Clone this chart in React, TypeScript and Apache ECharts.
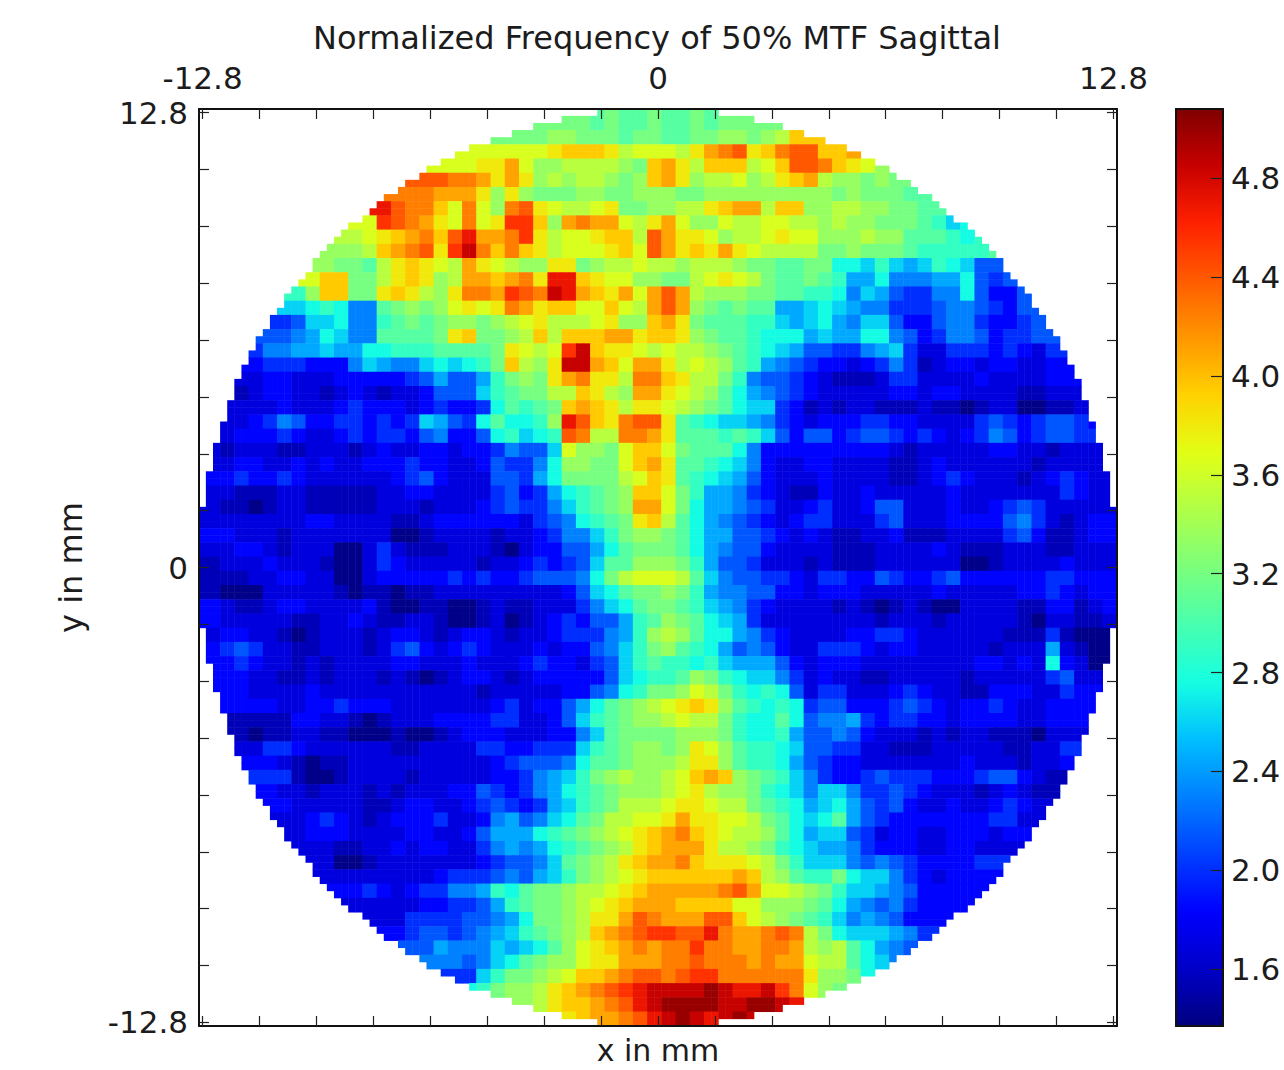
import React, { useEffect, useRef } from "react";
import * as echarts from "echarts";

// Each letter is one 0.4 mm block of the map:
// a = 1.40, b = 1.55, ... each next letter is 0.15 higher, up to y = 5.00. "." is outside the wafer.
const sagittalRows: string[] = [
  "........ ........ ........ .mmlmllm llmlmmm. ........ ........ ........",
  "........ ........ ......mm nnmmmlmm llmmnnmn orr..... ........ ........",
  "........ ........ ...ppppp qrrrqopp poqstuqr tuurrsp. ........ ........",
  "........ ........ .ppqqspn noooonmr sqorrrop ruutrqpn n....... ........",
  "........ .......u uttsqsqn onoonmnr sqnoopno qrsonnmn mm...... ........",
  "........ ......tt sssqnqnm mmnnmmnn nmmnnnnn nnnnmnmm mlll.... ........",
  "........ ....wutt rptpntuq poopqmmn nooqrsso rrnnoonn mmlll... ........",
  "........ ...pvuts qptpqvvr nstsspoq spnnpoop poononnm mmlkij.. ........",
  "........ ..opqrst ruwsstvq oppqrrou sqqpnoop qppnnnon nlllkjkm ........",
  "........ .nnorstu qvxtrtrq opppqrpu sqrqsqpo ooommnmm mlkkkkkl m.......",
  "........ nmmloqrq posqponn qqmnoopo onooonmm llmmjjik ihikjiff gjk.....",
  ".......p rrmmoqrq nossrstq wwrqppnn mmopqpom llmlkhhj ggghhjfe fhi.....",
  "......kn rrmmqrqo nqttsvut xwsrqsps usonnnmm llkkjgih feeggjfd dfgg....",
  ".....iij kjgglmnm npqpqtsq rrpprpos usnmlmll hhijihgg eeefggfe dffff...",
  "....eefi ijggklml mnnmnopq ooopqnnr sqmlllkk ihijhgii fddfgged deffg...",
  "...fffgh jiggllll mqrmmnor orrrssqr rqnmllkj jjhihhjj gfdeggfd eeffee..",
  "...egghh ihhjjkkk llllmqpo pvxrqqpo poonmlkj ihffeegh iecceeed edceee..",
  "..ddeeed ddgihggi jijkmron qxxsrpss qoponlkh gfeddcde gebcddcd dccddee.",
  "..ccddcc cdddddef hffhkmnm qstqqott rqoomkgf fedcbbbc eeccccdc cccdddc.",
  ".cbcddcc bcdcbccd fffiklmm oorqonss qponljhg fedccccc ddcddccc cbbcccc.",
  ".ccccdcc cdedddcd eddejlkl mrsrqoqq ponmljii edbcbccb bbcbbabc caabbcc.",
  ".ccdegfd deededei hfejljjk nwurqtuu qlkjiihg edcdddee ddccccef edeffedd",
  "ccdddedc cdedeedf gddfjkij kutootts qlllklki fdffdeff ededcdeg fdeffeed",
  "cbcccbbc ccbcdccd dcddegff ipnnmprr pmllljgd dddddddd cbcccccd dccbcccc",
  "ccddccdc dccddded dccdfeeg jnnmmprs qllkjigd ccddcccc bbcdcccc ccbccccc",
  "ddeddedc cccccdef dcccffeh jmmmmopr qlkjihfd cccdcccc bbcdedcc cbcdedcc",
  "ccbbbccb bbbbccdd ccccefde hjklmnrr pmkhhged cbbdccdc ccccdccc ccccedcc",
  "cbbabccb bbbbcccb cccdefee giklmnss pmjhhgfe ccdeccdf fcccdccd efeccccc",
  "cccccccd dccccbbc ddddddce fgjklmqr oljhgfed cdeeccce fcccdddd fgecbcdd",
  "ddcccbcc cccccaab ccccbccd eggikmnn mljhhffe dcdcbbcc dbbbcccc efdbbcdd",
  "ccddcbcc caacecbb bcccbacd dffhjlmm mljhgffd ccccbbbc cccdcbbb cccbbccc",
  "bcccdccc baacedcc cccbccde defillnn nmkhffec ccbcbbbc cccccaab ccccdccc",
  "bbbccddc caacdddd dededdef ffgjmopp poligffe edceeddf eddefddd dddeeddd",
  "baaacccc cbabbabb cccccccc cdfijlmm nmkhggff ddcdddcc cccdcccc cddedcdd",
  "dcbbcddc cccdbaab baabcbbc ccegijlm mlkihged ccccbcba bcbaaccc cbbddbcd",
  "dcccccbb ccdcbbcc baabcabc dedffhkl nmljihec cccccccb cccbcccc cbaccbbc",
  "cddccbab cccbcddc bcddcbcc deeeghkn onljjhge dccccdde edcccccc bbbebaaa",
  "defeccbb cccbcefd cdedcccd cddfgikm nlkjhfgf dcceeedc ddcccccb ccchcbaa",
  "ddedccbc bccccddc ccdcccde ddcefikl kkjkihhh fdcdddcc ccccccdd cdcjdcaa",
  "dddccbbc bcccbcba bcddcbcd ddddfijk klnmkjii gecdccbb cccccbcc cccefcc.",
  ".ddccccd cccccccc cccbcccc cddfgjkm mnpomkjk jfceeccc dedccbbd ddccedd.",
  ".ddddccd dedddccc ccccdecd dfhjlmno pqrqnlkj kjeffddd efedcdde dccddd..",
  ".bbbbbdd ccbabccc ddddeecc dfiklmnn opoomkjj ljfgghed eeddcddd dccdd...",
  "..babbcc bbaaabaa bcdddccc ddgilmmm mnnnmkjj khffgfdc ccbcbccb bbacc...",
  "..cceedc cccccbbc ccceedde eeiklmnn mnqpnlkk jiffeecc bbbccccc bbccee..",
  "...ddcba bbcccccc ccccdeff fgjllmnn noqqnlkk jhfeddcc cccccdcc cbccd...",
  "...eeeba abccccbc ccccddeg hikmnonn oprsrnml kigeddef eeedddef fdcbb...",
  "....dccb cccbcbcc cddfedeg hjklmnnn opqonnmk jigiigee fedcccbc dcbb....",
  "....ddcc cccbbcdd ccdefede hiklmooo pqqpooml kjhijhfe fdccdccd edc.....",
  ".....ccd edcbcddd eccdghfg ijlmoopp qsqqppom ljijlhfe ddddddde ec......",
  "......cd ddccccdd ccdfhhhj klmnopqr strqpoon ljhiifec ddccdddc d.......",
  "......cc cbbccdcd dcceghgh jklmnoqr sssqoonm kjihhged ddccddcc ........",
  ".......c caabcccc cccdeffg ilmnoqrs strqqqpo mkiiigfg fedddde. ........",
  "........ cccccccc deeefgfh ikmnopqr rrrrrsro nlkkmjii gedcddd. ........",
  "........ ..dedcde egghkjlm mnoopqrs sssstusp ponmkiih gfdddd.. ........",
  "........ ..cccccd deefhklm mnopqrss srrrrppn nnmljhgf gedddd.. ........",
  "........ ...cccee eeffghjm mnoqqsut sssuurpo nmlkighg fddd.... ........",
  "........ ....ddef fefghikl mnorstuv vuuwtsst utomjiii hge..... ........",
  "........ ......ff hgggihij lnpqrsts ttvttsst tsonoljh gf...... ........",
  "........ .......g ggfgijlm nnpqqsss ttutttst sspoolji g....... ........",
  "........ ........ .eeikmmn oprrstuu tuvvtttt ttqnnmjh ........ ........",
  "........ ........ ..jkmnno qrstuvwx xxxyxwwx vtpnmm.. ........ ........",
  "........ ........ ....nnno qrrstuwx yyyyxxyy xwvo.... ........ ........",
  "........ ........ ........ qqrsstuw xyxwxyxv ........ ........ ........",
];

const jetColors = [
  "#00007f", "#0000c8", "#0000ff", "#0040ff", "#0080ff", "#00bfff", "#15ffe2", "#48ffaf", "#7bff7b",
  "#afff48", "#e2ff15", "#ffd200", "#ff9700", "#ff5c00", "#ff2100", "#c80000", "#7f0000",
];
const colorbarTicks = [1.6, 2.0, 2.4, 2.8, 3.2, 3.6, 4.0, 4.4, 4.8];
const colorMin = 1.37;
const colorMax = 5.08;
const cellsPerSide = 129;
const axisLabels: Record<number, string> = { 0: "-12.8", 64: "0", 128: "12.8" };
const titleText = "Normalized Frequency of 50% MTF Sagittal";
const xName = "x in mm";
const yName = "y in mm";

const FONT = "'DejaVu Sans', sans-serif";
const INK = "#1c1c1c";

function blockValue(row: number, col: number): number {
  const text = sagittalRows[row].replace(/ /g, "");
  let ch = text[col];
  for (let d = 1; (!ch || ch === ".") && d < 64; d++) {
    const a = text[col - d];
    const b = text[col + d];
    if (a && a !== ".") ch = a;
    else if (b && b !== ".") ch = b;
  }
  return 1.4 + 0.15 * (ch.charCodeAt(0) - 97);
}

function buildCells(): [number, number, number][] {
  const out: [number, number, number][] = [];
  const rowCount = sagittalRows.length;
  for (let j = 0; j < cellsPerSide; j++) {
    for (let i = 0; i < cellsPerSide; i++) {
      const dx = i - 64;
      const dy = j - 64;
      if (dx * dx + dy * dy > 64.5 * 64.5) continue;
      const r = Math.min(rowCount - 1, Math.floor((j * rowCount) / cellsPerSide));
      const c = Math.min(63, Math.floor((i * 64) / cellsPerSide));
      out.push([i, cellsPerSide - 1 - j, blockValue(r, c)]);
    }
  }
  return out;
}

export default function App() {
  const ref = useRef<HTMLDivElement>(null);
  useEffect(() => {
    document.body.style.margin = "0";
    const chart = echarts.init(ref.current!, undefined, { renderer: "svg" });
    const categories = Array.from({ length: cellsPerSide }, (_, i) => String(i));
    const tickEvery = (i: number) => i % 8 === 0;
    const labelEvery = (i: number) => i % 64 === 0;
    const line = { show: true, onZero: false, lineStyle: { color: "#111", width: 2 } };
    const tick = {
      show: true,
      inside: true,
      length: 10,
      alignWithLabel: true,
      interval: tickEvery,
      lineStyle: { color: "#222", width: 1.2 },
    };
    const label = (show: boolean, margin: number) => ({
      show,
      interval: labelEvery,
      margin,
      color: INK,
      fontFamily: FONT,
      fontSize: 31,
      formatter: (v: string) => axisLabels[Number(v)] ?? "",
    });
    chart.setOption({
      animation: false,
      backgroundColor: "#fff",
      title: {
        text: titleText,
        left: 652,
        top: 17,
        textAlign: "center",
        textStyle: { color: INK, fontFamily: FONT, fontSize: 32, fontWeight: "normal" },
      },
      grid: [
        { left: 199, top: 109, width: 918, height: 917, containLabel: false, outerBoundsMode: "none" },
        { left: 1176, top: 109, width: 47, height: 917, containLabel: false, outerBoundsMode: "none" },
      ],
      xAxis: [
        { type: "category", data: categories, position: "top", gridIndex: 0, z: 5, axisLine: line, axisTick: tick, axisLabel: label(true, 16), splitLine: { show: false } },
        {
          type: "category", data: categories, position: "bottom", gridIndex: 0, z: 5, axisLine: line, axisTick: tick, axisLabel: { show: false }, splitLine: { show: false },
          name: xName, nameLocation: "middle", nameGap: 9,
          nameTextStyle: { color: INK, fontFamily: FONT, fontSize: 30, verticalAlign: "top" },
        },
        { type: "category", data: ["", ""], gridIndex: 1, position: "top", z: 10, axisLine: line, axisTick: { show: false }, axisLabel: { show: false } },
        { type: "category", data: ["", ""], gridIndex: 1, position: "bottom", z: 10, axisLine: line, axisTick: { show: false }, axisLabel: { show: false } },
      ],
      yAxis: [
        {
          type: "category", data: categories, position: "left", gridIndex: 0, z: 5, axisLine: line, axisTick: tick, axisLabel: label(true, 11), splitLine: { show: false },
          name: yName, nameLocation: "middle", nameGap: 112, nameRotate: 90,
          nameTextStyle: { color: INK, fontFamily: FONT, fontSize: 32 },
        },
        { type: "category", data: categories, position: "right", gridIndex: 0, z: 5, axisLine: line, axisTick: tick, axisLabel: { show: false }, splitLine: { show: false } },
        {
          type: "value", gridIndex: 1, position: "right", min: colorMin, max: colorMax, z: 10,
          axisLine: line,
          axisTick: { show: true, inside: true, length: 12, customValues: colorbarTicks, lineStyle: { color: "#222", width: 1.2 } },
          axisLabel: { show: true, customValues: colorbarTicks, margin: 8, color: INK, fontFamily: FONT, fontSize: 31, formatter: (v: number) => v.toFixed(1) },
          splitLine: { show: false },
        },
        {
          type: "value", gridIndex: 1, position: "left", min: colorMin, max: colorMax, z: 10,
          axisLine: line, axisTick: { show: false }, axisLabel: { show: false }, splitLine: { show: false },
        },
      ],
      visualMap: {
        type: "continuous",
        seriesIndex: 0,
        min: colorMin,
        max: colorMax,
        calculable: false,
        realtime: false,
        orient: "vertical",
        left: 1176,
        top: 109,
        padding: 0,
        itemWidth: 47,
        itemHeight: 917,
        text: ["", ""],
        showLabel: false,
        inRange: { color: jetColors },
      },
      series: [
        {
          type: "heatmap",
          xAxisIndex: 0,
          yAxisIndex: 0,
          data: buildCells(),
          progressive: 0,
          silent: true,
          emphasis: { disabled: true },
          itemStyle: { borderWidth: 0 },
        },
      ],
    });
    return () => chart.dispose();
  }, []);
  return <div ref={ref} style={{ width: 1284, height: 1070 }} />;
}
